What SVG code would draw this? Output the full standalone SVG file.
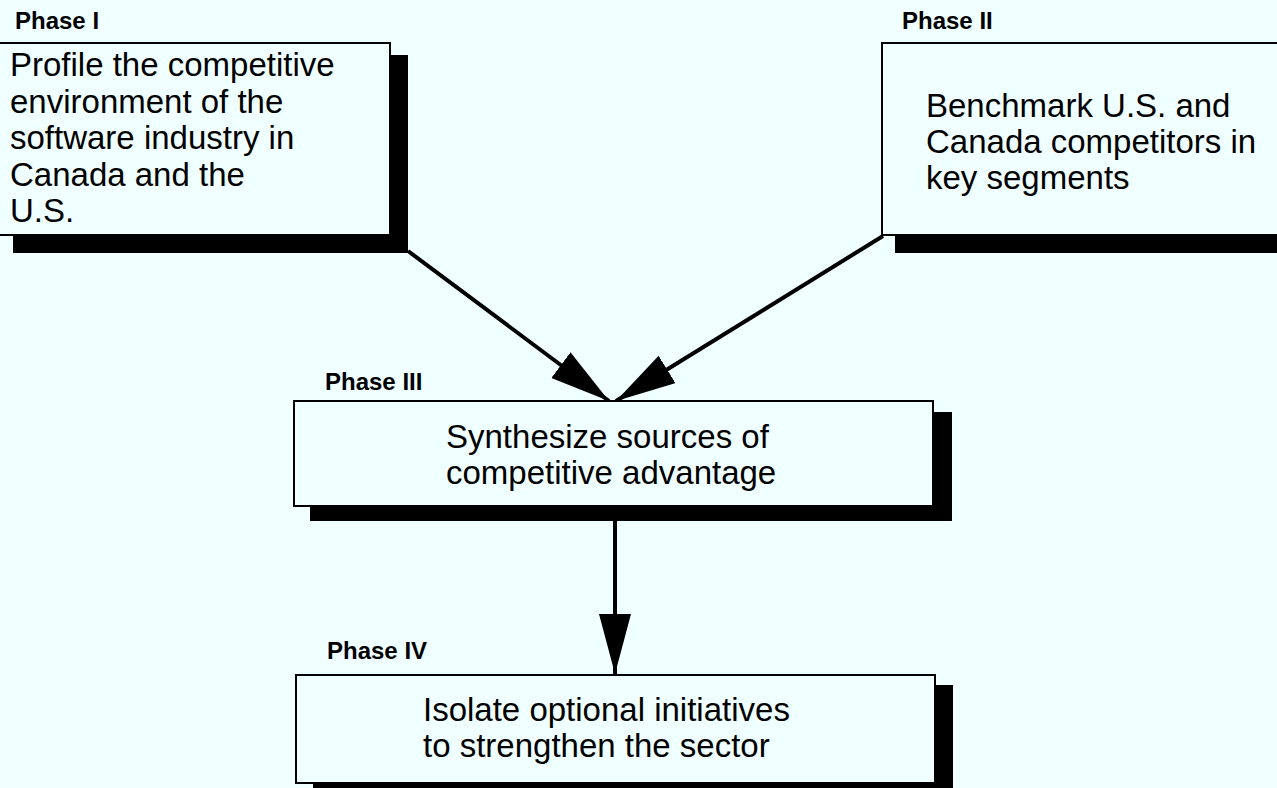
<svg xmlns="http://www.w3.org/2000/svg" width="1277" height="788" viewBox="0 0 1277 788">
<style>
.bg{fill:#F0FFFF}
.box{fill:#F0FFFF;stroke:#000;stroke-width:2}
.shadow{fill:#000}
.lbl{font-family:"Liberation Sans",Arial,Helvetica,sans-serif;font-weight:bold;font-size:24px;fill:#000}
.txt{font-family:"Liberation Sans",Arial,Helvetica,sans-serif;font-size:33px;fill:#000}
.conn{stroke:#000;stroke-width:4;fill:none;marker-end:url(#head)}
</style>
<defs>
<marker id="head" markerUnits="userSpaceOnUse" markerWidth="62" markerHeight="34" refX="60" refY="16" orient="auto" viewBox="0 0 62 34">
<path d="M0,0 L60,16 L0,32 Z" fill="#000"/>
</marker>
</defs>
<rect class="bg" x="0" y="0" width="1277" height="788"/>
<g id="connectors">
<path class="conn" d="M408,251 L609,401"/>
<path class="conn" d="M883,236 L616,401"/>
<path class="conn" d="M615,521 L615,674"/>
</g>
<g id="phase1">
<text class="lbl" x="15" y="29">Phase I</text>
<rect class="shadow" x="13" y="55" width="395" height="198"/>
<rect class="box" x="-5" y="43" width="395" height="192"/>
<text class="txt" x="10" y="76">Profile the competitive</text>
<text class="txt" x="10" y="112.5">environment of the</text>
<text class="txt" x="10" y="149">software industry in</text>
<text class="txt" x="10" y="185.5">Canada and the</text>
<text class="txt" x="10" y="222">U.S.</text>
</g>
<g id="phase2">
<text class="lbl" x="902" y="29">Phase II</text>
<rect class="shadow" x="895" y="55" width="400" height="198"/>
<rect class="box" x="882" y="43" width="410" height="192"/>
<text class="txt" x="926" y="117">Benchmark U.S. and</text>
<text class="txt" x="926" y="153">Canada competitors in</text>
<text class="txt" x="926" y="189">key segments</text>
</g>
<g id="phase3">
<text class="lbl" x="325" y="390">Phase III</text>
<rect class="shadow" x="310" y="412" width="642" height="109"/>
<rect class="box" x="294" y="401" width="639" height="105"/>
<text class="txt" x="446" y="448">Synthesize sources of</text>
<text class="txt" x="446" y="484">competitive advantage</text>
</g>
<g id="phase4">
<text class="lbl" x="327" y="659">Phase IV</text>
<rect class="shadow" x="313" y="685" width="640" height="112"/>
<rect class="box" x="296" y="675" width="639" height="108"/>
<text class="txt" x="423" y="721">Isolate optional initiatives</text>
<text class="txt" x="423" y="757">to strengthen the sector</text>
</g>
</svg>
